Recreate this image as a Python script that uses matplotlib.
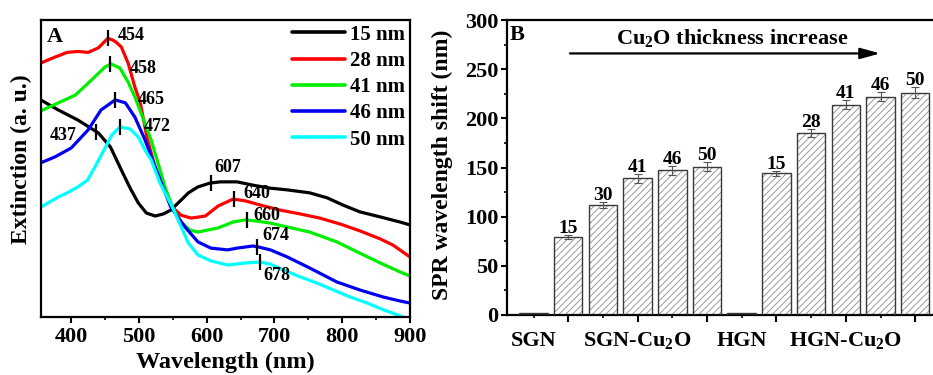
import numpy as np
import matplotlib
matplotlib.use('Agg')
import matplotlib.pyplot as plt
from matplotlib.ticker import MultipleLocator, FixedLocator, NullFormatter

plt.rcParams['font.family'] = ['Liberation Serif', 'DejaVu Serif']
plt.rcParams['font.weight'] = 'bold'
plt.rcParams['axes.labelweight'] = 'bold'
plt.rcParams['mathtext.fontset'] = 'custom'
plt.rcParams['mathtext.rm'] = 'Liberation Serif:bold'
plt.rcParams['mathtext.it'] = 'Liberation Serif:bold'
plt.rcParams['mathtext.bf'] = 'Liberation Serif:bold'
plt.rcParams['mathtext.default'] = 'rm'
plt.rcParams['hatch.linewidth'] = 0.6

# ---------------- Panel A data (extinction spectra) ----------------
wl_15 = [355, 381, 410, 440, 458, 474, 487, 499, 511, 524, 536, 547, 561, 573, 587, 605,
         620, 645, 668, 693, 719, 752, 778, 801, 826, 856, 885, 900]
ext_15 = [0.731, 0.697, 0.663, 0.620, 0.572, 0.495, 0.434, 0.384, 0.350, 0.340, 0.347, 0.360,
          0.391, 0.418, 0.438, 0.451, 0.455, 0.455, 0.444, 0.434, 0.428, 0.418, 0.401, 0.377,
          0.354, 0.337, 0.320, 0.310]

wl_28 = [355, 376, 394, 410, 425, 440, 450, 454, 460, 466, 474, 484, 494, 502, 512, 524, 539,
         547, 562, 577, 598, 617, 639, 657, 679, 708, 738, 767, 797, 826, 856, 875, 885, 900]
ext_28 = [0.855, 0.875, 0.891, 0.894, 0.891, 0.906, 0.929, 0.938, 0.934, 0.926, 0.909, 0.855,
          0.774, 0.721, 0.603, 0.502, 0.421, 0.374, 0.343, 0.333, 0.340, 0.374, 0.397, 0.391,
          0.377, 0.360, 0.347, 0.333, 0.313, 0.290, 0.263, 0.242, 0.226, 0.202]

wl_41 = [355, 381, 406, 430, 450, 459, 472, 484, 494, 503, 518, 528, 539, 550, 562, 575, 587,
         617, 639, 657, 674, 694, 719, 752, 792, 826, 856, 885, 900]
ext_41 = [0.694, 0.721, 0.747, 0.798, 0.842, 0.852, 0.838, 0.791, 0.741, 0.687, 0.596, 0.519,
          0.434, 0.367, 0.320, 0.293, 0.286, 0.300, 0.320, 0.327, 0.323, 0.316, 0.303, 0.286,
          0.253, 0.215, 0.182, 0.152, 0.138]

wl_46 = [355, 376, 400, 425, 444, 465, 480, 494, 509, 524, 536, 547, 568, 587, 606, 631, 645,
         668, 676, 694, 719, 752, 792, 826, 861, 885, 900]
ext_46 = [0.519, 0.539, 0.569, 0.630, 0.697, 0.731, 0.721, 0.673, 0.596, 0.505, 0.434, 0.370,
          0.303, 0.253, 0.232, 0.226, 0.232, 0.239, 0.236, 0.226, 0.202, 0.165, 0.118, 0.091,
          0.067, 0.054, 0.047]

wl_50 = [355, 381, 394, 410, 424, 435, 450, 460, 472, 487, 499, 509, 518, 531, 550, 561, 573,
         587, 606, 631, 657, 679, 694, 713, 738, 763, 787, 812, 837, 861, 878, 893, 900]
ext_50 = [0.370, 0.404, 0.418, 0.438, 0.461, 0.505, 0.569, 0.613, 0.640, 0.633, 0.606, 0.562,
          0.529, 0.451, 0.367, 0.310, 0.249, 0.209, 0.189, 0.175, 0.182, 0.185, 0.178, 0.158,
          0.135, 0.114, 0.091, 0.067, 0.047, 0.024, 0.010, -0.003, -0.010]

series_labels = ['15 nm', '28 nm', '41 nm', '46 nm', '50 nm']
series_colors = ['#000000', '#ff0000', '#00ee00', '#0000ee', '#00ffff']

# peak markers: (series index, wavelength)
peak_series = [1, 2, 3, 4, 0, 0, 1, 2, 3, 4]
peak_wl = [454, 458, 465, 472, 437, 607, 640, 660, 674, 678]
peak_text = ['454', '458', '465', '472', '437', '607', '640', '660', '674', '678']
peak_offsets = [(7, 2), (14, -3), (16, 0), (17, 0), (-14, -3), (2, 11), (7, 4), (4, 3), (4, 8), (3, -10)]

# ---------------- Panel B data (SPR shift bars) ----------------
bar_values = [2, 79, 112, 139, 147, 151, 2, 144, 185, 214, 222, 226]
bar_errors = [0, 2, 3, 4.5, 4.7, 5, 0, 2.5, 3.7, 5, 4.8, 5.5]
bar_labels = ['', '15', '30', '41', '46', '50', '', '15', '28', '41', '46', '50']
group_names = ['SGN', 'SGN-Cu$_2$O', 'HGN', 'HGN-Cu$_2$O']
group_members = [[1], [2, 3, 4, 5, 6], [7], [8, 9, 10, 11, 12]]

fig = plt.figure(figsize=(9.33, 3.75), dpi=100)

# ================= Panel A =================
axA = fig.add_axes([40.7 / 933, 58 / 375, 369.3 / 933, 297 / 375])
wls = [wl_15, wl_28, wl_41, wl_46, wl_50]
exts = [ext_15, ext_28, ext_41, ext_46, ext_50]
for w, e, c, lab in zip(wls, exts, series_colors, series_labels):
    axA.plot(w, e, color=c, lw=2.3, label=lab, solid_capstyle='round', solid_joinstyle='round')

for si, pw, txt, off in zip(peak_series, peak_wl, peak_text, peak_offsets):
    py = np.interp(pw, wls[si], exts[si])
    axA.plot([pw], [py], marker='|', color='black', markersize=12, mew=1.6)
    axA.annotate(txt, xy=(pw, py), xytext=off, textcoords='offset points',
                 ha='right' if off[0] < 0 else 'left', va='center', fontsize=13,
                 fontweight='bold')

axA.set_xlim(355, 900)
axA.set_ylim(0, 1)
axA.set_yticks([])
axA.xaxis.set_major_locator(MultipleLocator(100))
axA.xaxis.set_minor_locator(MultipleLocator(50))
axA.tick_params(axis='x', which='major', direction='out', length=4, width=1.5,
                labelsize=16, pad=3)
axA.tick_params(axis='x', which='minor', direction='out', length=2.5, width=1.2)
for lab in axA.get_xticklabels():
    lab.set_fontweight('bold')
for s in axA.spines.values():
    s.set_linewidth(1.6)

axA.set_xlabel('Wavelength (nm)', fontsize=17.5, fontweight='bold')
axA.xaxis.label.set_va('baseline')
axA.xaxis.set_label_coords(0.5, -0.172)
axA.set_ylabel('Extinction (a. u.)', fontsize=17, fontweight='bold')
axA.yaxis.label.set_va('center')
axA.yaxis.set_label_coords(-0.051, 0.532)

axA.text(0.017, 0.926, 'A', transform=axA.transAxes, fontsize=16, fontweight='bold',
         va='baseline', ha='left')

leg = axA.legend(loc='upper left', bbox_to_anchor=(0.680, 0.9845), frameon=False,
                 fontsize=15, handlelength=2.55, handletextpad=0.25, labelspacing=0.3,
                 borderpad=0, borderaxespad=0)
for t in leg.get_texts():
    t.set_fontweight('bold')
for ln in leg.get_lines():
    ln.set_linewidth(2.6)

# ================= Panel B =================
axB = fig.add_axes([507 / 933, 60 / 375, 436 / 933, 295 / 375])
xpos = np.arange(1, len(bar_values) + 1)
axB.bar(xpos, bar_values, width=0.82, color='white', edgecolor='#8c8c8c', hatch='/////',
        linewidth=0, zorder=2)
axB.bar(xpos, bar_values, width=0.82, fill=False, edgecolor='#3a3a3a', linewidth=1.0, zorder=3)
err_idx = [i for i, e in enumerate(bar_errors) if e > 0]
axB.errorbar(xpos[err_idx], [bar_values[i] for i in err_idx], yerr=[bar_errors[i] for i in err_idx],
             fmt='none', ecolor='#555555', elinewidth=0.8, capsize=3, capthick=0.8, zorder=4)
for x, v, e, lab in zip(xpos, bar_values, bar_errors, bar_labels):
    if lab:
        axB.text(x, v + e + 2, lab, ha='center', va='baseline', fontsize=14, fontweight='bold')

axB.set_xlim(0.236, 12.8)
axB.set_ylim(0, 300)
axB.yaxis.set_major_locator(MultipleLocator(50))
axB.yaxis.set_minor_locator(MultipleLocator(25))
axB.xaxis.set_major_locator(FixedLocator(xpos[1::2]))
axB.xaxis.set_minor_locator(FixedLocator(xpos[0::2]))
axB.xaxis.set_major_formatter(NullFormatter())
axB.tick_params(axis='x', which='major', direction='out', length=5, width=1.5)
axB.tick_params(axis='x', which='minor', direction='out', length=2.5, width=1.2)
axB.tick_params(axis='y', which='major', direction='out', length=4, width=1.5, labelsize=16, pad=2)
axB.tick_params(axis='y', which='minor', direction='out', length=2.5, width=1.2)
for lab in axB.get_yticklabels():
    lab.set_fontweight('bold')
for s in axB.spines.values():
    s.set_linewidth(1.6)

for name, members in zip(group_names, group_members):
    cx = np.mean(members)
    axB.text(cx, -0.105, name, transform=axB.get_xaxis_transform(), ha='center',
             va='baseline', fontsize=16, fontweight='bold')

axB.set_ylabel('SPR wavelength shift (nm)', fontsize=17, fontweight='bold')
axB.yaxis.label.set_va('center')
axB.yaxis.set_label_coords(-0.149, 0.508)

axB.text(0.32, 279.7, 'B', fontsize=16, fontweight='bold', va='baseline', ha='left')
axB.annotate('', xy=(10.99, 266), xytext=(2.05, 266),
             arrowprops=dict(arrowstyle='-|>,head_length=0.8,head_width=0.22', color='black',
                             lw=1.6, mutation_scale=15, shrinkA=0, shrinkB=0))
axB.text(6.73, 276, 'Cu$_2$O thickness increase', ha='center', va='baseline', fontsize=16,
         fontweight='bold')

fig.savefig('out.png', dpi=100)
